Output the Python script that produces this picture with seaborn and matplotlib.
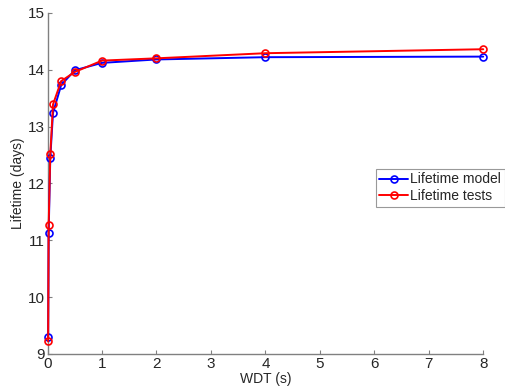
import matplotlib
matplotlib.use("Agg")
import matplotlib.pyplot as plt
import seaborn as sns
import pandas as pd

wdt = [0.01, 0.02, 0.05, 0.1, 0.25, 0.5, 1, 2, 4, 8]
model = [9.30, 11.12, 12.45, 13.24, 13.73, 13.99, 14.12, 14.18, 14.22, 14.23]
tests = [9.22, 11.27, 12.51, 13.39, 13.80, 13.96, 14.16, 14.20, 14.29, 14.36]

sns.set_theme(style="white")
plt.rcParams['font.family'] = ['Liberation Sans', 'DejaVu Sans']

fig = plt.figure(figsize=(5.06, 3.89), dpi=100)
ax = fig.add_axes([0.094, 0.090, 0.861, 0.877])

df = pd.DataFrame({"WDT": wdt * 2,
                   "Lifetime": model + tests,
                   "Series": ["Lifetime model"] * len(wdt) + ["Lifetime tests"] * len(wdt)})

for name, col in [("Lifetime model", "#0000ff"), ("Lifetime tests", "#ff0000")]:
    sub = df[df["Series"] == name]
    sns.lineplot(data=sub, x="WDT", y="Lifetime", ax=ax, color=col, marker="o",
                 markerfacecolor="none", markeredgecolor=col, markersize=5,
                 markeredgewidth=1.2, linewidth=1.4, label=name, estimator=None,
                 sort=False, zorder=5, clip_on=False)

ax.set_xlim(0, 8)
ax.set_ylim(9, 15)
ax.set_xticks(range(0, 9))
ax.set_yticks(range(9, 16))
ax.set_xlabel("WDT (s)", fontsize=10, labelpad=1, color="#262626")
ax.set_ylabel("Lifetime (days)", fontsize=10, labelpad=2, color="#262626")
for s in ["top", "right"]:
    ax.spines[s].set_visible(False)
for s in ["left", "bottom"]:
    ax.spines[s].set_color("#808080")
    ax.spines[s].set_linewidth(1.0)
    ax.spines[s].set_zorder(1)
ax.tick_params(direction="in", length=3, width=0.8, color="#808080",
               labelsize=11, labelcolor="#262626", pad=2)
ax.tick_params(axis="x", bottom=True)
ax.tick_params(axis="y", left=True)

leg = ax.legend(loc="upper left", bbox_to_anchor=(375.5/506, 1 - 169/389),
                bbox_transform=fig.transFigure, frameon=True, fontsize=10,
                handlelength=2.1, handletextpad=0.15, borderpad=0.25,
                labelspacing=0.2, borderaxespad=0, fancybox=False)
leg.get_frame().set_edgecolor("#808080")
leg.get_frame().set_linewidth(0.8)

fig.savefig("out.png", dpi=100)
